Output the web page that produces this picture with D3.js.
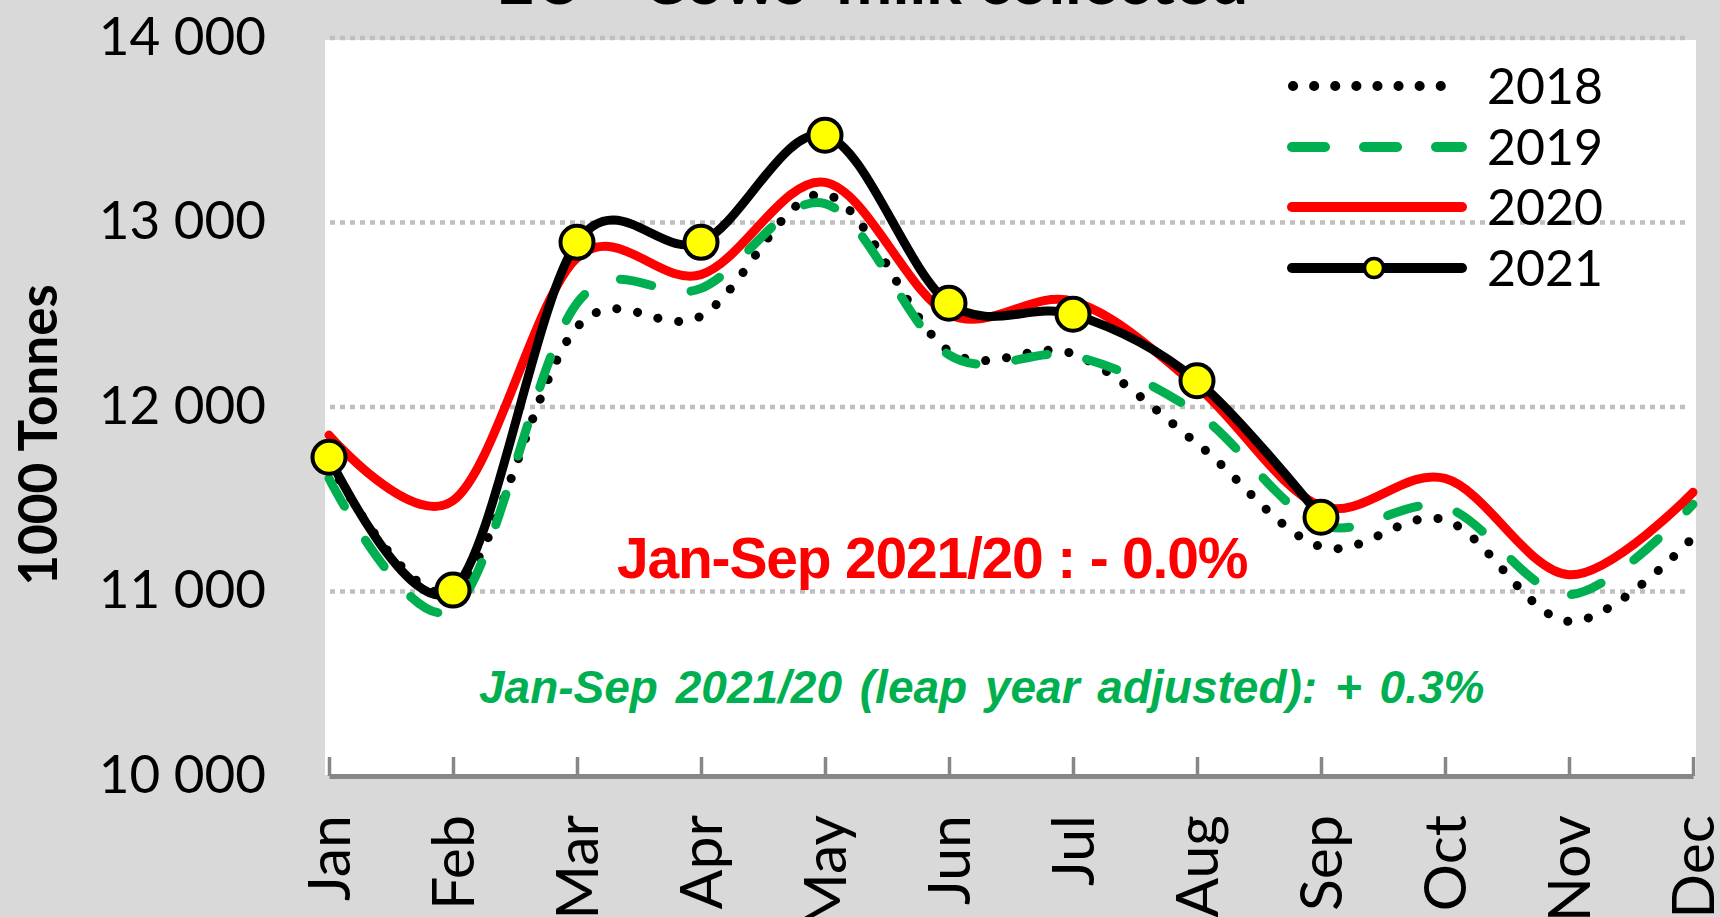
<!DOCTYPE html>
<html>
<head>
<meta charset="utf-8">
<script src="https://cdn.jsdelivr.net/npm/d3@7"></script>
<style>
  html, body { margin: 0; padding: 0; background: #d9d9d9; }
  svg { display: block; font-family: Lato, "Open Sans", sans-serif; }
</style>
</head>
<body>
<div id="chart"></div>
<script>
// months on the x axis
var months = ["Jan", "Feb", "Mar", "Apr", "May", "Jun", "Jul", "Aug", "Sep", "Oct", "Nov", "Dec"];

// 1000 tonnes
var milk2018 = [11700, 11000, 12430, 12490, 13150, 12300, 12285, 11800, 11240, 11385, 10835, 11290];
var milk2019 = [11610, 10900, 12560, 12640, 13100, 12280, 12275, 11965, 11360, 11455, 10980, 11470];
var milk2020 = [11845, 11490, 12805, 12715, 13215, 12500, 12570, 12110, 11460, 11610, 11088, 11535];
var milk2021 = [11725, 11005, 12890, 12890, 13470, 12560, 12500, 12140, 11400];

var yTicks = [10000, 11000, 12000, 13000, 14000];
var gridTicks = [11000, 12000, 13000, 14000];

var titleText = "EU - Cows' milk collected";
var yTitle = "1000 Tonnes";
var noteRed = "Jan-Sep 2021/20 : - 0.0%";
var noteGreen = "Jan-Sep 2021/20 (leap year adjusted): + 0.3%";

function draw_chart(selector){
  //Width and height
  var w = 1720;
  var h = 917;

  var svg = d3.select(selector)
    .append("svg")
      .attr("width", w)
      .attr("height", h);

  svg.append("rect")
    .attr("width", w)
    .attr("height", h)
    .attr("fill", "#d9d9d9");

  // scales
  var x = d3.scalePoint()
    .domain(months)
    .range([329, 1693]);

  var y = d3.scaleLinear()
    .domain([10000, 14000])
    .range([775.5, 37.5]);

  // white plot area
  svg.append("rect")
    .attr("x", 325)
    .attr("y", 40)
    .attr("width", 1696 - 325)
    .attr("height", 775 - 40)
    .attr("fill", "#ffffff");

  // title, mostly cut off at the top
  svg.append("text")
    .attr("x", 872)
    .attr("y", 4)
    .attr("text-anchor", "middle")
    .style("font-size", "67px")
    .style("font-weight", "bold")
    .text(titleText);

  // gridlines
  var grid = svg.append("g")
    .attr("transform", "translate(330,0)")
    .call(d3.axisLeft(y).tickValues(gridTicks).tickSize(-1360).tickFormat(""));
  grid.select(".domain").remove();
  grid.selectAll("line")
    .attr("stroke", "#bfbfbf")
    .attr("stroke-width", 4.5)
    .attr("stroke-dasharray", "5,5");

  // y axis labels
  var fmt = d3.formatLocale({decimal: ".", thousands: " ", grouping: [3], currency: ["", ""]}).format(",");
  var yAxis = svg.append("g")
    .attr("transform", "translate(326,0)")
    .call(d3.axisLeft(y).tickValues(yTicks).tickSize(0).tickPadding(60).tickFormat(fmt));
  yAxis.select(".domain").remove();
  yAxis.selectAll("text")
    .attr("fill", "#000")
    .style("font-size", "53px")
    .style("font-family", "Lato, sans-serif");

  // y title
  svg.append("text")
    .attr("transform", "translate(57,435) rotate(-90)")
    .attr("text-anchor", "middle")
    .style("font-size", "53px")
    .style("font-weight", "bold")
    .text(yTitle);

  // x axis with inner ticks
  var xAxis = svg.append("g")
    .attr("transform", "translate(0,776)")
    .call(d3.axisBottom(x).tickSize(-19).tickSizeOuter(0).tickFormat(""));
  xAxis.select(".domain")
    .attr("stroke", "#878787")
    .attr("stroke-width", 5);
  xAxis.selectAll(".tick line")
    .attr("stroke", "#878787")
    .attr("stroke-width", 3.5);

  // month labels, rotated
  svg.append("g")
    .selectAll("text")
    .data(months)
    .enter()
    .append("text")
      .attr("transform", function(d){ return "translate(" + (x(d) + 21) + ",815) rotate(-90)"; })
      .attr("text-anchor", "end")
      .style("font-size", "59px")
      .text(function(d){ return d; });

  // series lines
  var line = d3.line()
    .x(function(d, i){ return x(months[i]); })
    .y(function(d){ return y(d); })
    .curve(d3.curveCardinal.tension(0));

  var series = [
    {name: "2018", values: milk2018, color: "#000000", width: 9, dash: "0.1,21"},
    {name: "2019", values: milk2019, color: "#00b050", width: 9, dash: "32,40"},
    {name: "2020", values: milk2020, color: "#ff0000", width: 9, dash: null},
    {name: "2021", values: milk2021, color: "#000000", width: 9, dash: null}
  ];

  svg.append("g")
    .selectAll("path")
    .data(series)
    .enter()
    .append("path")
      .attr("d", function(d){ return line(d.values); })
      .attr("fill", "none")
      .attr("stroke", function(d){ return d.color; })
      .attr("stroke-width", function(d){ return d.width; })
      .attr("stroke-dasharray", function(d){ return d.dash; })
      .attr("stroke-linecap", "round")
      .attr("stroke-linejoin", "round");

  // 2021 markers
  svg.append("g")
    .selectAll("circle")
    .data(milk2021)
    .enter()
    .append("circle")
      .attr("cx", function(d, i){ return x(months[i]); })
      .attr("cy", function(d){ return y(d); })
      .attr("r", 16.5)
      .attr("fill", "#ffff00")
      .attr("stroke", "#000000")
      .attr("stroke-width", 4);

  // notes
  svg.append("text")
    .attr("x", 617)
    .attr("y", 578)
    .attr("fill", "#ff0000")
    .style("font-family", "'Liberation Sans', Arial, sans-serif")
    .style("font-weight", "bold")
    .style("font-size", "57px")
    .style("letter-spacing", "-1.2px")
    .text(noteRed);

  svg.append("text")
    .attr("x", 479)
    .attr("y", 703)
    .attr("fill", "#00b050")
    .style("font-family", "'Liberation Sans', Arial, sans-serif")
    .style("font-weight", "bold")
    .style("font-style", "italic")
    .style("font-size", "46px")
    .style("word-spacing", "5px")
    .text(noteGreen);

  // legend
  var legendRows = [86, 147, 207, 268];
  var lg = svg.append("g");
  series.forEach(function(s, i){
    var ly = legendRows[i];
    var x1 = 1292, x2 = 1462;
    if (s.name === "2018") { x1 = 1293; x2 = 1445; }
    lg.append("line")
      .attr("x1", x1).attr("x2", x2)
      .attr("y1", ly).attr("y2", ly)
      .attr("stroke", s.color)
      .attr("stroke-width", 10)
      .attr("stroke-dasharray", s.name === "2019" ? "33,39" : s.dash)
      .attr("stroke-linecap", "round");
    if (s.name === "2021") {
      lg.append("circle")
        .attr("cx", 1374).attr("cy", ly)
        .attr("r", 9.5)
        .attr("fill", "#ffff00")
        .attr("stroke", "#000")
        .attr("stroke-width", 3.5);
    }
    lg.append("text")
      .attr("x", 1487)
      .attr("y", ly)
      .attr("dy", "0.36em")
      .style("font-size", "50px")
      .text(s.name);
  });
}

draw_chart("#chart");
</script>
</body>
</html>
